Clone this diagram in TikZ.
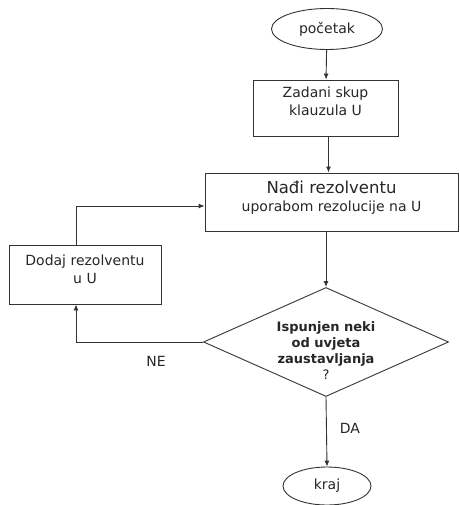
\documentclass[tikz,border=0pt]{standalone}
\usepackage{fontspec}
\setmainfont{DejaVu Sans}
\usetikzlibrary{shapes.geometric,arrows.meta}
% text block moved up/down inside a node of fixed size
\newcommand{\pomaknut}[2]{\raisebox{#1}[0pt][0pt]{\begin{tabular}{@{}c@{}}#2\end{tabular}}}
\begin{document}
\begin{tikzpicture}[x=1pt, y=-1pt,
  korak/.style={rectangle, draw=black!80, line width=0.9pt, text=black!85, inner sep=0pt,
               font=\fontsize{14}{18}\selectfont},
  krajnji/.style={ellipse, draw=black!80, line width=0.9pt, text=black!85, inner sep=0pt,
               font=\fontsize{14}{18}\selectfont},
  odluka/.style={diamond, draw=black!80, line width=0.9pt, text=black!85,
               inner sep=0pt, aspect=2.25, font=\bfseries\fontsize{13}{16}\selectfont},
  oznaka/.style={text=black!85, inner sep=0pt, font=\fontsize{14}{18}\selectfont},
  arr/.style={-{Latex[length=6pt,width=5pt]}, line width=0.9pt, black!80}
]
\useasboundingbox (0,0) rectangle (459,505);
\node[krajnji] (pocetak) at (327,29)   [minimum width=111pt, minimum height=41pt] {početak};
\node[korak]   (zadani)  at (325.5,108) [minimum width=145pt, minimum height=56pt]
  {\pomaknut{1pt}{Zadani skup\\klauzula U}};
\node[korak]   (nadi)    at (331.5,202) [minimum width=253pt, minimum height=58pt]
  {\pomaknut{0pt}{{\fontsize{16.5}{19}\selectfont Nađi rezolventu}\\uporabom rezolucije na U}};
\node[korak]   (dodaj)   at (85,274.5)  [minimum width=152pt, minimum height=59pt]
  {\pomaknut{0.5pt}{Dodaj rezolventu\\u U}};
\node[odluka]  (uvjet)   at (326,342)   [minimum width=245pt, minimum height=109pt]
  {\pomaknut{-13.5pt}{Ispunjen neki\\od uvjeta\\zaustavljanja\\{\mdseries ?}}};
\node[krajnji] (kraj)    at (327,486)   [minimum width=88pt, minimum height=38pt] {kraj};
\draw[arr] (pocetak) -- (zadani);
\draw[arr] ([xshift=3pt]zadani.south) -- ([xshift=3pt]zadani.south |- nadi.north);
\draw[arr] (nadi.south -| uvjet.north) -- (uvjet.north);
\draw[arr] (uvjet.west) -| node[oznaka, pos=0.185, below=14pt] {NE} ([xshift=-9pt]dodaj.south);
\draw[arr] ([xshift=-9pt]dodaj.north) |- ([yshift=-4pt]nadi.west);
\draw[arr] (uvjet.south) -- node[oznaka, pos=0.45, right=13pt] {DA} (kraj.north);
\end{tikzpicture}
\end{document}
